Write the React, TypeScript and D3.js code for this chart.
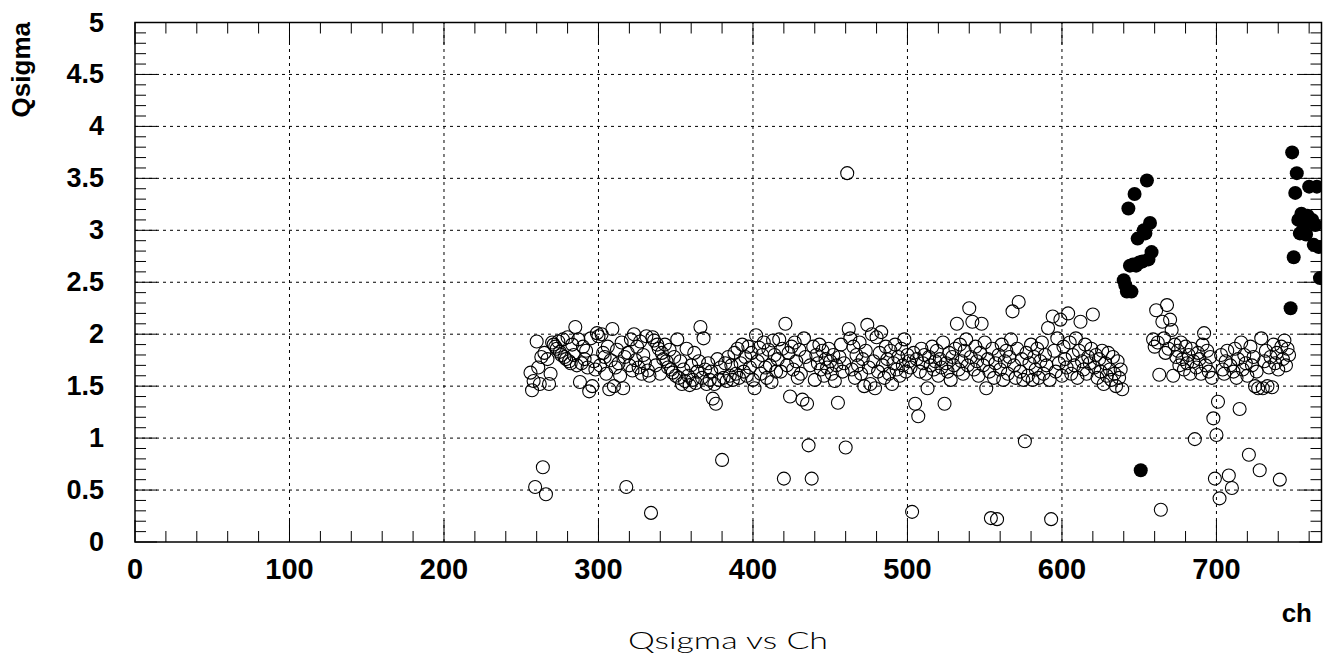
import React from 'react';
import * as d3 from 'd3';

const W = 1329;
const H = 663;

// axis definition
const xDomain = [0, 768];
const yDomain = [0, 5];
const xMajor = [0, 100, 200, 300, 400, 500, 600, 700];
const xLabels = ['0', '100', '200', '300', '400', '500', '600', '700'];
const yMajor = [0, 0.5, 1, 1.5, 2, 2.5, 3, 3.5, 4, 4.5, 5];
const yLabels = ['0', '0.5', '1', '1.5', '2', '2.5', '3', '3.5', '4', '4.5', '5'];

// Qsigma per channel (open markers), blocks start at the given channel
const q256 = [1.63, 1.46, 1.55, 0.53, 1.93, 1.68, 1.52, 1.78, 0.72, 1.82, 0.46, 1.76, 1.52, 1.62, 1.92, 1.90,
  1.88, 1.86, 1.93, 1.83, 1.80, 1.95, 1.78, 1.76, 1.97, 1.74, 1.72, 1.90, 1.80, 2.07, 1.70, 1.95];
const q288 = [1.54, 1.72, 1.88, 1.76, 1.84, 1.68, 1.45, 1.96, 1.50, 1.74, 1.66, 2.01, 1.98, 1.70, 2.00, 1.82,
  1.78, 1.62, 1.88, 1.47, 1.75, 2.05, 1.50, 1.68, 1.85, 1.72, 1.60, 1.92, 1.48, 1.78, 0.53, 1.82];
const q320 = [1.70, 1.95, 1.65, 2.00, 1.75, 1.88, 1.68, 1.93, 1.62, 1.80, 1.72, 1.98, 1.65, 1.60, 0.28, 1.97,
  1.94, 1.70, 1.90, 1.86, 1.62, 1.82, 1.76, 1.90, 1.74, 1.68, 1.85, 1.66, 1.63, 1.78, 1.60, 1.95];
const q352 = [1.58, 1.74, 1.52, 1.66, 1.55, 1.86, 1.60, 1.51, 1.70, 1.56, 1.82, 1.53, 1.64, 1.74, 2.07, 1.58,
  1.96, 1.66, 1.52, 1.72, 1.56, 1.64, 1.38, 1.52, 1.33, 1.76, 1.56, 1.68, 0.79, 1.58, 1.72, 1.55];
const q384 = [1.78, 1.60, 1.70, 1.56, 1.82, 1.62, 1.86, 1.58, 1.72, 1.90, 1.64, 1.78, 1.60, 1.88, 1.68, 1.82,
  1.56, 1.48, 1.99, 1.74, 1.87, 1.62, 1.80, 1.92, 1.68, 1.58, 1.85, 1.70, 1.54, 1.94, 1.80, 1.64];
const q416 = [1.76, 1.95, 1.64, 1.86, 0.61, 2.10, 1.70, 1.82, 1.40, 1.88, 1.66, 1.92, 1.74, 1.58, 1.85, 1.62,
  1.37, 1.96, 1.78, 1.33, 0.93, 1.70, 0.61, 1.88, 1.56, 1.80, 1.72, 1.90, 1.66, 1.84, 1.60, 1.76];
const q448 = [1.68, 1.86, 1.74, 1.62, 1.80, 1.55, 1.70, 1.34, 1.78, 1.90, 1.64, 1.72, 0.91, 3.55, 2.05, 1.96,
  1.66, 1.88, 1.58, 1.80, 1.70, 1.92, 1.62, 1.76, 1.50, 1.84, 2.09, 1.68, 1.52, 2.00, 1.74, 1.48];
const q480 = [1.97, 1.64, 1.82, 2.02, 1.70, 1.58, 1.88, 1.76, 1.62, 1.84, 1.52, 1.72, 1.90, 1.66, 1.78, 1.60,
  1.86, 1.70, 1.95, 1.64, 1.80, 1.74, 1.68, 0.29, 1.82, 1.33, 1.76, 1.21, 1.64, 1.86, 1.72, 1.80];
const q512 = [1.62, 1.48, 1.78, 1.70, 1.88, 1.66, 1.74, 1.84, 1.60, 1.76, 1.68, 1.92, 1.33, 1.72, 1.64, 1.82,
  1.56, 1.78, 1.70, 1.86, 2.10, 1.66, 1.90, 1.74, 1.62, 1.84, 1.95, 1.70, 2.25, 1.78, 2.12, 1.66];
const q544 = [1.88, 1.74, 1.60, 1.82, 2.10, 1.70, 1.92, 1.48, 1.76, 1.64, 0.23, 1.86, 1.58, 1.72, 0.22, 1.80,
  1.66, 1.90, 1.56, 1.74, 1.84, 1.62, 1.78, 1.95, 2.22, 1.70, 1.58, 1.86, 2.31, 1.64, 1.76, 1.56];
const q576 = [0.97, 1.82, 1.60, 1.72, 1.90, 1.56, 1.78, 1.66, 1.86, 1.58, 1.74, 1.92, 1.62, 1.80, 1.70, 2.06,
  1.56, 0.22, 2.17, 1.84, 1.64, 1.96, 1.72, 2.14, 1.60, 1.88, 1.76, 1.68, 2.20, 1.92, 1.62, 1.80];
const q608 = [1.70, 1.96, 1.58, 1.84, 2.12, 1.74, 1.66, 1.90, 1.62, 1.78, 1.72, 1.86, 2.19, 1.68, 1.80, 1.58,
  1.76, 1.64, 1.84, 1.52, 1.72, 1.60, 1.82, 1.66, 1.56, 1.78, 1.62, 1.50, 1.74, 1.58, 1.66, 1.47];
const q659 = [1.95, 1.88, 2.23, 1.92, 1.61, 0.31, 2.12, 1.96, 1.82, 2.28, 1.86, 2.14, 2.04, 1.60, 1.90, 1.78,
  1.84, 1.70, 1.92, 1.76, 1.66, 1.88, 1.72, 1.80, 1.62, 1.86, 1.74, 0.99, 1.68, 1.82, 1.76, 1.62,
  1.90, 2.01, 1.70, 1.84, 1.64, 1.78, 1.58, 1.19, 0.61, 1.03, 1.35, 0.42, 1.80, 1.66, 1.62, 1.74,
  1.84, 0.64, 1.70, 0.52, 1.64, 1.86, 1.58, 1.76, 1.28, 1.92, 1.66, 1.80, 1.72, 1.60, 0.84, 1.88,
  1.70, 1.78, 1.50, 1.64, 1.48, 0.69, 1.96, 1.48, 1.74, 1.84, 1.50, 1.68, 1.78, 1.49, 1.90, 1.72,
  1.82, 1.66, 0.60, 1.88, 1.76, 1.94, 1.70, 1.86, 1.80];

// flagged channels (filled markers)
const f640 = [2.52, 2.47, 2.41, 3.21, 2.66, 2.41, 2.67, 3.35, 2.66, 2.92, 2.69, 0.69, 2.70, 3.00, 2.97, 3.48,
  2.72, 3.07, 2.79];
const f748 = [2.25, 3.75, 2.74, 3.36, 3.55, 3.10, 2.97, 3.16, 3.00, 3.12, 2.96, 3.14, 3.42, 3.08, 3.10, 2.86,
  3.05, 3.42, 2.84, 2.54];

const openBlocks: [number, number[]][] = [
  [256, q256], [288, q288], [320, q320], [352, q352], [384, q384], [416, q416],
  [448, q448], [480, q480], [512, q512], [544, q544], [576, q576], [608, q608], [659, q659],
];
const filledBlocks: [number, number[]][] = [[640, f640], [748, f748]];

const toPoints = (blocks: [number, number[]][]) =>
  blocks.flatMap(([start, vals]) => vals.map((v, i) => ({ ch: start + i, q: v })));

const openPts = toPoints(openBlocks);
const filledPts = toPoints(filledBlocks);

const X0 = 135, X1 = 1321.5, Y0 = 542, Y1 = 22.5;

export default function App() {
  const x = d3.scaleLinear().domain(xDomain).range([X0, X1]);
  const y = d3.scaleLinear().domain(yDomain).range([Y0, Y1]);
  const xMinor = d3.range(0, 768, 20).filter((v) => v % 100 !== 0);
  const yMinor = d3.range(0, 50).map((v) => v / 10).filter((v) => Math.round(v * 10) % 5 !== 0);
  const labelFont = "'Liberation Sans', Arial, sans-serif";
  const grid = '#000';

  return (
    <svg width={W} height={H} style={{ position: 'absolute', left: 0, top: 0, background: '#fff' }}>
      <defs>
        <clipPath id="frame">
          <rect x={X0} y={Y1} width={X1 - X0} height={Y0 - Y1} />
        </clipPath>
      </defs>
      <rect x={0} y={0} width={W} height={H} fill="#fff" />
      {/* grid */}
      {xMajor.slice(1).map((v) => (
        <line key={'gx' + v} x1={x(v)} x2={x(v)} y1={Y0} y2={Y1} stroke={grid} strokeWidth={1} strokeDasharray="3,4" />
      ))}
      {yMajor.slice(1, -1).map((v) => (
        <line key={'gy' + v} x1={X0} x2={X1} y1={y(v)} y2={y(v)} stroke={grid} strokeWidth={1} strokeDasharray="3,4" />
      ))}
      {/* ticks */}
      {xMajor.map((v) => (
        <g key={'tx' + v}>
          <line x1={x(v)} x2={x(v)} y1={Y0} y2={Y0 - 22} stroke="#000" strokeWidth={1} />
          <line x1={x(v)} x2={x(v)} y1={Y1} y2={Y1 + 22} stroke="#000" strokeWidth={1} />
        </g>
      ))}
      {xMinor.map((v) => (
        <g key={'mx' + v}>
          <line x1={x(v)} x2={x(v)} y1={Y0} y2={Y0 - 11} stroke="#000" strokeWidth={1} />
          <line x1={x(v)} x2={x(v)} y1={Y1} y2={Y1 + 11} stroke="#000" strokeWidth={1} />
        </g>
      ))}
      {yMajor.map((v) => (
        <g key={'ty' + v}>
          <line x1={X0} x2={X0 + 22} y1={y(v)} y2={y(v)} stroke="#000" strokeWidth={1} />
          <line x1={X1} x2={X1 - 22} y1={y(v)} y2={y(v)} stroke="#000" strokeWidth={1} />
        </g>
      ))}
      {yMinor.map((v) => (
        <g key={'my' + v}>
          <line x1={X0} x2={X0 + 11} y1={y(v)} y2={y(v)} stroke="#000" strokeWidth={1} />
          <line x1={X1} x2={X1 - 11} y1={y(v)} y2={y(v)} stroke="#000" strokeWidth={1} />
        </g>
      ))}
      {/* markers */}
      <g clipPath="url(#frame)">
        {openPts.map((p, i) => (
          <circle key={'o' + i} cx={x(p.ch)} cy={y(p.q)} r={6.5} fill="none" stroke="#000" strokeWidth={1.1} />
        ))}
        {filledPts.map((p, i) => (
          <circle key={'f' + i} cx={x(p.ch)} cy={y(p.q)} r={7} fill="#000" />
        ))}
      </g>
      {/* frame */}
      <rect x={X0} y={Y1} width={X1 - X0} height={Y0 - Y1} fill="none" stroke="#000" strokeWidth={1.5} />
      {/* tick labels */}
      {xMajor.map((v, i) => (
        <text key={'lx' + v} x={x(v)} y={579} textAnchor="middle" fontFamily={labelFont} fontWeight="bold" fontSize={29} fill="#000">
          {xLabels[i]}
        </text>
      ))}
      {yMajor.map((v, i) => (
        <text key={'ly' + v} x={104} y={y(v) + 9} textAnchor="end" fontFamily={labelFont} fontWeight="bold" fontSize={27} fill="#000">
          {yLabels[i]}
        </text>
      ))}
      <text x={1312} y={622} textAnchor="end" fontFamily={labelFont} fontWeight="bold" fontSize={26} fill="#000">ch</text>
      <text transform="translate(30,22) rotate(-90)" textAnchor="end" fontFamily={labelFont} fontWeight="bold" fontSize={26} fill="#000">Qsigma</text>
      <text x={728} y={649} textAnchor="middle" fontFamily="Lato, 'DejaVu Sans', sans-serif" fontWeight={300} fontSize={24} textLength={200} lengthAdjust="spacingAndGlyphs" fill="#000">
        Qsigma vs Ch
      </text>
    </svg>
  );
}
